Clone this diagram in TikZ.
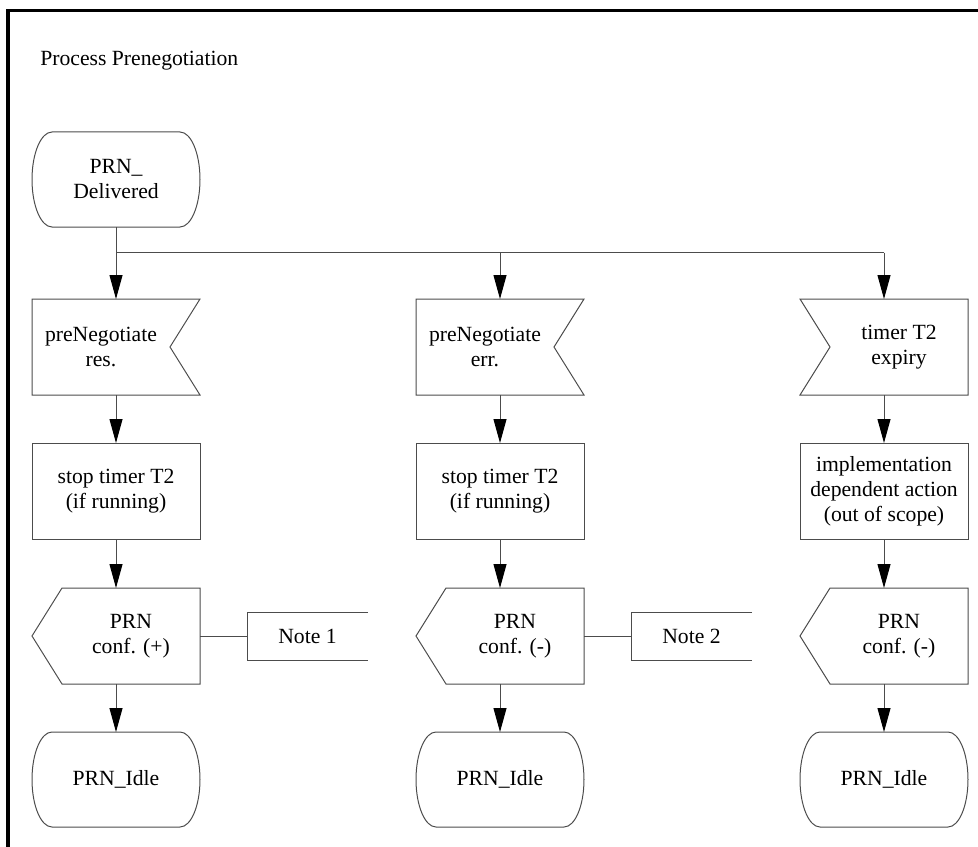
\documentclass[tikz,border=0pt]{standalone}
\usepackage{fontspec}
\setmainfont{Liberation Serif}
\usetikzlibrary{arrows.meta,positioning,calc}
\tikzset{
  % Define standard text
  every node/.style={font=\fontsize{13}{15}\selectfont},
  % Define style for boxes
  box/.style={
    rectangle,
    draw=black!70, line width=0.6pt,
    minimum width=100.8pt,
    minimum height=57.6pt,
    inner sep=2pt,
    align=center},
  % Define style for signal bodies (outline drawn afterwards)
  sig/.style={
    rectangle,
    outer sep=0pt,
    minimum width=82.8pt,
    minimum height=57.6pt,
    inner sep=2pt,
    align=center},
  % Define style for state bodies (outline drawn afterwards)
  state/.style={
    rectangle,
    outer sep=0pt,
    minimum width=76.8pt,
    minimum height=57pt,
    inner sep=2pt,
    align=center},
  % Define style for notes
  note/.style={
    rectangle,
    outer sep=0pt,
    minimum width=72.6pt,
    minimum height=28.8pt},
  % outline of the symbols
  outline/.style={draw=black!70, line width=0.6pt},
  % plain line
  link/.style={draw=black!70, line width=0.6pt},
  % line with arrow
  line/.style={draw=black!70, line width=0.6pt,
    -{Triangle[length=14.4pt,width=7.8pt,color=black]}},
}

\begin{document}
\begin{tikzpicture}[node distance=28.8pt]
  \useasboundingbox (0,0) rectangle (586.8pt,-508.2pt);
  \draw[line width=2pt] (4.8pt,-512pt) -- (4.8pt,-6.5pt) -- (590pt,-6.5pt);
  \node[anchor=west, inner sep=0pt] (title) at (24pt,-36.5pt) {Process Prenegotiation};
  % nodes
  \node[state] (deliv) at (69.6pt,-107.7pt) {PRN\_\\Delivered};
  \coordinate[below=15.4pt of deliv] (fork);
  % left column
  \node[sig, below=43.2pt of deliv, xshift=-9pt] (resin) {preNegotiate\\res.};
  \node[box, below=of resin, xshift=9pt] (stop1) {stop timer T2\\(if running)};
  \node[sig, below=of stop1, xshift=9pt] (conf1) {PRN\\conf. (+)};
  \node[state, below=of conf1, xshift=-9pt] (idle1) {PRN\_Idle};
  \node[note, right=28.2pt of conf1] (note1) {Note 1};
  % middle column
  \node[sig, right=147.6pt of resin] (errin) {preNegotiate\\err.};
  \node[box, below=of errin, xshift=9pt] (stop2) {stop timer T2\\(if running)};
  \node[sig, below=of stop2, xshift=9pt] (conf2) {PRN\\conf. (-)};
  \node[state, below=of conf2, xshift=-9pt] (idle2) {PRN\_Idle};
  \node[note, right=28.2pt of conf2] (note2) {Note 2};
  % right column
  \node[sig, right=165.6pt of errin] (timein) {timer T2\\expiry};
  \node[box, below=of timein, xshift=-9pt] (impl) {implementation\\dependent action\\(out of scope)};
  \node[sig, below=of impl, xshift=9pt] (conf3) {PRN\\conf. (-)};
  \node[state, below=of conf3, xshift=-9pt] (idle3) {PRN\_Idle};
  % outlines
  \foreach \n in {resin,errin}
    \draw[outline] (\n.north west) -- ([xshift=18pt]\n.north east) -- (\n.east)
      -- ([xshift=18pt]\n.south east) -- (\n.south west) -- cycle;
  \draw[outline] (timein.north east) -- ([xshift=-18pt]timein.north west) -- (timein.west)
    -- ([xshift=-18pt]timein.south west) -- (timein.south east) -- cycle;
  \foreach \n in {conf1,conf2,conf3}
    \draw[outline] (\n.north east) -- (\n.north west) -- ([xshift=-18pt]\n.west)
      -- (\n.south west) -- (\n.south east) -- cycle;
  \foreach \n in {deliv,idle1,idle2,idle3}
    \draw[outline] (\n.north west) arc[start angle=90, end angle=270, x radius=12pt, y radius=28.5pt]
      -- (\n.south east) arc[start angle=-90, end angle=90, x radius=12pt, y radius=28.5pt] -- cycle;
  \foreach \n in {note1,note2}
    \draw[outline] (\n.north east) -- (\n.north west) -- (\n.south west) -- (\n.south east);
  % connectors
  \path[line] (deliv) -- (deliv |- resin.north);
  \path[link] (fork) -- (fork -| impl);
  \path[line] (fork -| stop2) -- (stop2 |- errin.north);
  \path[line] (fork -| impl) -- (impl |- timein.north);
  \path[line] (stop1 |- resin.south) -- (stop1);
  \path[line] (stop2 |- errin.south) -- (stop2);
  \path[line] (impl |- timein.south) -- (impl);
  \path[line] (stop1) -- (stop1 |- conf1.north);
  \path[line] (stop2) -- (stop2 |- conf2.north);
  \path[line] (impl) -- (impl |- conf3.north);
  \path[line] (stop1 |- conf1.south) -- (idle1);
  \path[line] (stop2 |- conf2.south) -- (idle2);
  \path[line] (impl |- conf3.south) -- (idle3);
  \path[link] (conf1) -- (note1);
  \path[link] (conf2) -- (note2);
\end{tikzpicture}
\end{document}
